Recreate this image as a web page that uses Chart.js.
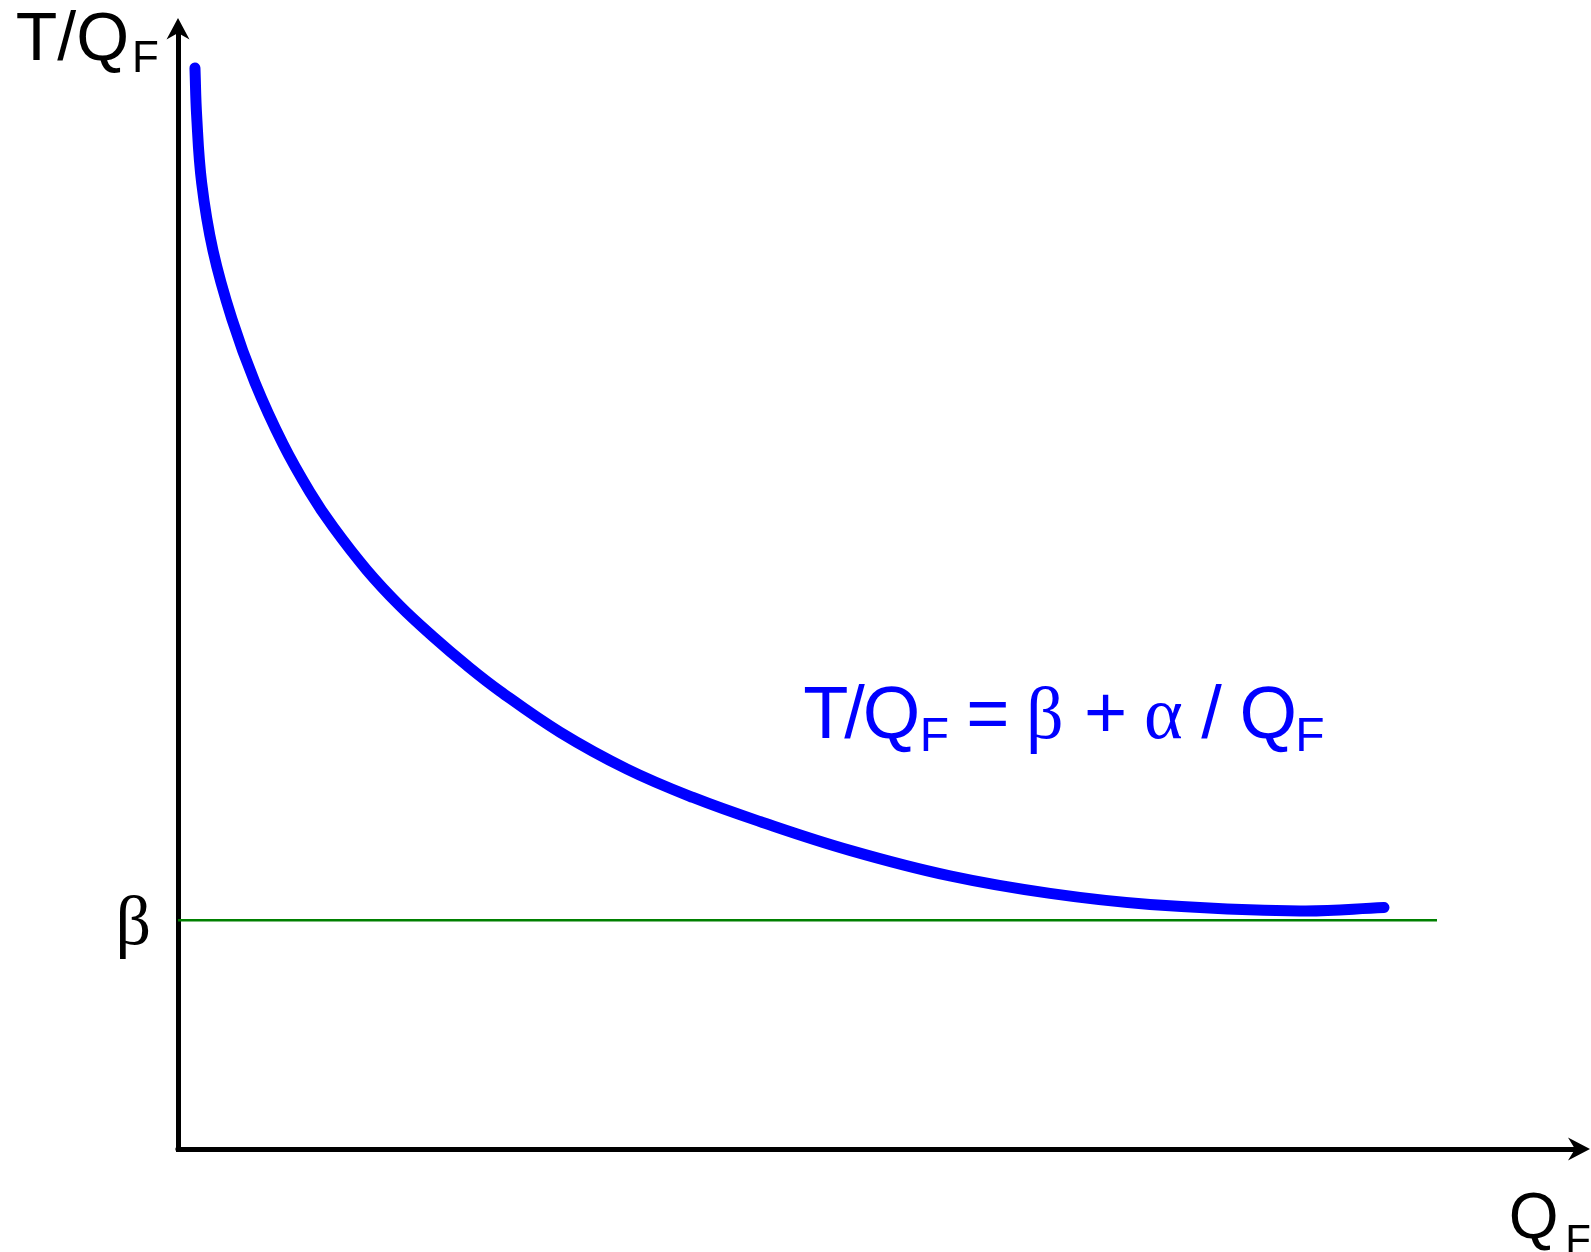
<!DOCTYPE html>
<html>
<head>
<meta charset="utf-8">
<title>T/QF = β + α / QF</title>
<script src="https://cdn.jsdelivr.net/npm/chart.js@4.4.1/dist/chart.umd.min.js"></script>
<style>
  html, body { margin: 0; padding: 0; background: #ffffff; }
  #wrap { width: 1591px; height: 1252px; position: relative; }
  canvas { display: block; }
</style>
</head>
<body>
<div id="wrap"><canvas id="chart" width="1591" height="1252"></canvas></div>
<script>
// Quantity Q_F (horizontal) and cost per unit T/Q_F (vertical), arbitrary units 0..100
const QF = [1.21, 1.33, 1.69, 2.50, 3.85, 5.49, 7.49, 9.42, 11.06, 13.48, 15.83, 18.19,
            20.61, 22.97, 27.25, 32.03, 36.73, 41.51, 47.93, 55.06, 62.20, 69.33,
            80.03, 86.02];
const T_PER_QF = [96.43, 92.19, 86.16, 80.12, 74.02, 68.37, 62.89, 58.58, 55.50, 51.62,
                  48.45, 45.71, 43.13, 40.84, 37.18, 33.89, 31.36, 29.21, 26.64, 24.36,
                  22.80, 21.82, 21.24, 21.54];

// Asymptote level β and the span of its reference line
const BETA = 20.4;
const BETA_LINE_QF = [0, 89.8];

// Axis ranges and the single labelled tick on the vertical axis
const X_RANGE = [0, 100];
const Y_RANGE = [0, 100];
const Y_TICK_VALUES = [BETA];
const Y_TICK_LABELS = ['β'];

const SANS = '"Liberation Sans", Arial, Helvetica, sans-serif';
const SERIF = '"Liberation Serif", "Times New Roman", Times, serif';
const BLUE = '#0000ff';
const GREEN = '#008000';

const curvePoints = QF.map((x, i) => ({ x: x, y: T_PER_QF[i] }));
const betaPoints = BETA_LINE_QF.map(x => ({ x: x, y: BETA }));

// Draws a text piece so that its ink starts exactly at inkLeft
function inkText(ctx, str, font, inkLeft, baseline, color) {
  ctx.font = font;
  ctx.textAlign = 'left';
  ctx.textBaseline = 'alphabetic';
  ctx.fillStyle = color;
  const m = ctx.measureText(str);
  ctx.fillText(str, inkLeft + m.actualBoundingBoxLeft, baseline);
}

// Axis arrowheads, corner joint, axis titles and the formula label
const decorations = {
  id: 'decorations',
  afterDraw(chart, args, opts) {
    const { ctx, chartArea: a, scales } = chart;
    ctx.save();

    // arrowheads
    ctx.fillStyle = '#000';
    ctx.beginPath();                       // vertical axis, pointing up
    ctx.moveTo(a.left, a.top - 10);
    ctx.lineTo(a.left + 11.5, a.top + 11.5);
    ctx.lineTo(a.left, a.top + 5);
    ctx.lineTo(a.left - 11.5, a.top + 11.5);
    ctx.closePath();
    ctx.fill();
    ctx.beginPath();                       // horizontal axis, pointing right
    ctx.moveTo(a.right + 10, a.bottom);
    ctx.lineTo(a.right - 12, a.bottom - 11.5);
    ctx.lineTo(a.right - 5, a.bottom);
    ctx.lineTo(a.right - 12, a.bottom + 11.5);
    ctx.closePath();
    ctx.fill();
    // rounded joint where the two axes meet
    ctx.beginPath();
    ctx.arc(a.left, a.bottom, 2.6, 0, Math.PI * 2);
    ctx.fill();

    // vertical axis title: T/Q_F
    inkText(ctx, 'T/Q', '68px ' + SANS, a.left - 161.3, a.top + 32, '#000');
    inkText(ctx, 'F', '44px ' + SANS, a.left - 43, a.top + 43.7, '#000');

    // horizontal axis title: Q_F
    inkText(ctx, 'Q', '64px ' + SANS, a.right - 68.3, a.bottom + 88.5, '#000');
    inkText(ctx, 'F', '42px ' + SANS, a.right - 11.7, a.bottom + 104.5, '#000');

    // curve formula, anchored on the data scales
    const fx = scales.x.getPixelForValue(opts.formulaAt.x);
    const fy = scales.y.getPixelForValue(opts.formulaAt.y);
    const big = '74px ' + SANS, sub = '48px ' + SANS, greek = '74px ' + SERIF;
    const subDrop = 13.2;
    inkText(ctx, 'T', big,   fx,         fy,           BLUE);
    inkText(ctx, '/', big,   fx + 40.0,  fy,           BLUE);
    inkText(ctx, 'Q', big,   fx + 61.4,  fy,           BLUE);
    inkText(ctx, 'F', sub,   fx + 118.6, fy + subDrop, BLUE);
    inkText(ctx, '=', big,   fx + 165.0, fy,           BLUE);
    inkText(ctx, 'β', greek, fx + 225.7, fy,           BLUE);
    inkText(ctx, '+', big,   fx + 282.7, fy,           BLUE);
    inkText(ctx, 'α', greek, fx + 341.7, fy,           BLUE);
    inkText(ctx, '/', big,   fx + 397.1, fy,           BLUE);
    inkText(ctx, 'Q', big,   fx + 438.2, fy,           BLUE);
    inkText(ctx, 'F', sub,   fx + 494.0, fy + subDrop, BLUE);

    ctx.restore();
  }
};

new Chart(document.getElementById('chart'), {
  type: 'line',
  data: {
    datasets: [
      {
        label: 'β',
        data: betaPoints,
        borderColor: GREEN,
        borderWidth: 2.5,
        pointRadius: 0,
        fill: false,
        order: 2
      },
      {
        label: 'T/QF = β + α / QF',
        data: curvePoints,
        borderColor: BLUE,
        borderWidth: 11,
        borderCapStyle: 'round',
        borderJoinStyle: 'round',
        tension: 0.4,
        pointRadius: 0,
        fill: false,
        order: 1
      }
    ]
  },
  options: {
    responsive: false,
    devicePixelRatio: 1,
    animation: false,
    events: [],
    layout: { padding: { top: 28, right: 11, bottom: 0, left: 0 } },
    plugins: {
      legend: { display: false },
      tooltip: { enabled: false },
      decorations: { formulaAt: { x: 44.67, y: 36.67 } }
    },
    scales: {
      x: {
        type: 'linear',
        min: X_RANGE[0],
        max: X_RANGE[1],
        grid: { display: false, drawTicks: false },
        border: { display: true, color: '#000', width: 5 },
        ticks: { display: false },
        afterFit(scale) {
          scale.height = 103;
          scale.paddingLeft = 0;
          scale.paddingRight = 0;
        }
      },
      y: {
        type: 'linear',
        min: Y_RANGE[0],
        max: Y_RANGE[1],
        grid: { display: false, drawTicks: false },
        border: { display: true, color: '#000', width: 5 },
        afterBuildTicks(scale) {
          scale.ticks = Y_TICK_VALUES.map(v => ({ value: v }));
        },
        ticks: {
          color: '#000',
          font: { family: SERIF, size: 70 },
          padding: 27,
          labelOffset: 5,
          callback(value) {
            const i = Y_TICK_VALUES.indexOf(value);
            return i >= 0 ? Y_TICK_LABELS[i] : '';
          }
        },
        afterFit(scale) {
          // the lone tick label must not push the plot area down
          scale.width = 178;
          scale.paddingTop = 0;
          scale.paddingBottom = 0;
        }
      }
    }
  },
  plugins: [decorations]
});
</script>
</body>
</html>
